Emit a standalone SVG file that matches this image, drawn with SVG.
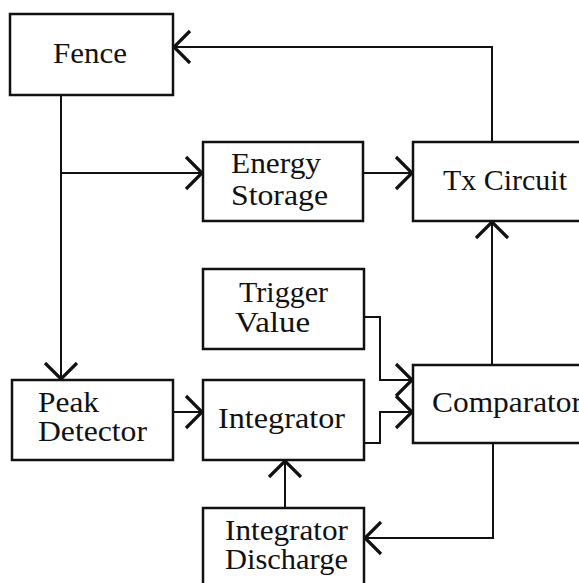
<svg xmlns="http://www.w3.org/2000/svg" width="579" height="583" viewBox="0 0 579 583">
<defs>
<style>
.box{fill:#fff;stroke:#111;stroke-width:2.5}
.ln{fill:none;stroke:#111;stroke-width:2}
.t{font-family:"Liberation Serif","Times New Roman",serif;font-size:29px;fill:#111}
</style>
<marker id="ah" markerUnits="userSpaceOnUse" markerWidth="40" markerHeight="40" viewBox="-20 -20 40 40" refX="0" refY="0" orient="auto">
<path d="M-16,-16 L0,0 L-16,16" fill="none" stroke="#111" stroke-width="3.2"/>
</marker>
</defs>
<rect width="579" height="583" fill="#fff"/>
<g id="connectors">
<path class="ln" d="M492,142 V47 H174" marker-end="url(#ah)"/>
<path class="ln" d="M61,95 V379" marker-end="url(#ah)"/>
<path class="ln" d="M61,173 H202" marker-end="url(#ah)"/>
<path class="ln" d="M363,173 H412" marker-end="url(#ah)"/>
<path class="ln" d="M492,365 V222" marker-end="url(#ah)"/>
<path class="ln" d="M173,412 H202" marker-end="url(#ah)"/>
<path class="ln" d="M364,317 H380 V380 H412" marker-end="url(#ah)"/>
<path class="ln" d="M364,443 H380 V412 H412" marker-end="url(#ah)"/>
<path class="ln" d="M285,508 V461" marker-end="url(#ah)"/>
<path class="ln" d="M493,443 V538 H365" marker-end="url(#ah)"/>
</g>
<g id="fence"><rect class="box" x="10" y="14" width="163" height="81"/><text class="t" x="53" y="63" textLength="74" lengthAdjust="spacingAndGlyphs">Fence</text></g>
<g id="energy-storage"><rect class="box" x="203" y="142" width="160" height="79"/><text class="t" x="231" y="173" textLength="90" lengthAdjust="spacingAndGlyphs">Energy</text><text class="t" x="231" y="205" textLength="97" lengthAdjust="spacingAndGlyphs">Storage</text></g>
<g id="tx-circuit"><rect class="box" x="413" y="142" width="175" height="79"/><text class="t" x="443" y="190" textLength="124" lengthAdjust="spacingAndGlyphs">Tx Circuit</text></g>
<g id="trigger-value"><rect class="box" x="203" y="269" width="161" height="80"/><text class="t" x="239" y="302" textLength="89" lengthAdjust="spacingAndGlyphs">Trigger</text><text class="t" x="235" y="332" textLength="75" lengthAdjust="spacingAndGlyphs">Value</text></g>
<g id="peak-detector"><rect class="box" x="12" y="380" width="161" height="80"/><text class="t" x="38" y="412" textLength="61" lengthAdjust="spacingAndGlyphs">Peak</text><text class="t" x="38" y="441" textLength="109" lengthAdjust="spacingAndGlyphs">Detector</text></g>
<g id="integrator"><rect class="box" x="203" y="380" width="161" height="80"/><text class="t" x="218" y="428" textLength="127" lengthAdjust="spacingAndGlyphs">Integrator</text></g>
<g id="comparator"><rect class="box" x="413" y="365" width="175" height="78"/><text class="t" x="432" y="412" textLength="150" lengthAdjust="spacingAndGlyphs">Comparator</text></g>
<g id="integrator-discharge"><rect class="box" x="203" y="508" width="161" height="85"/><text class="t" x="225" y="540" textLength="123" lengthAdjust="spacingAndGlyphs">Integrator</text><text class="t" x="225" y="569" textLength="123" lengthAdjust="spacingAndGlyphs">Discharge</text></g>
</svg>
